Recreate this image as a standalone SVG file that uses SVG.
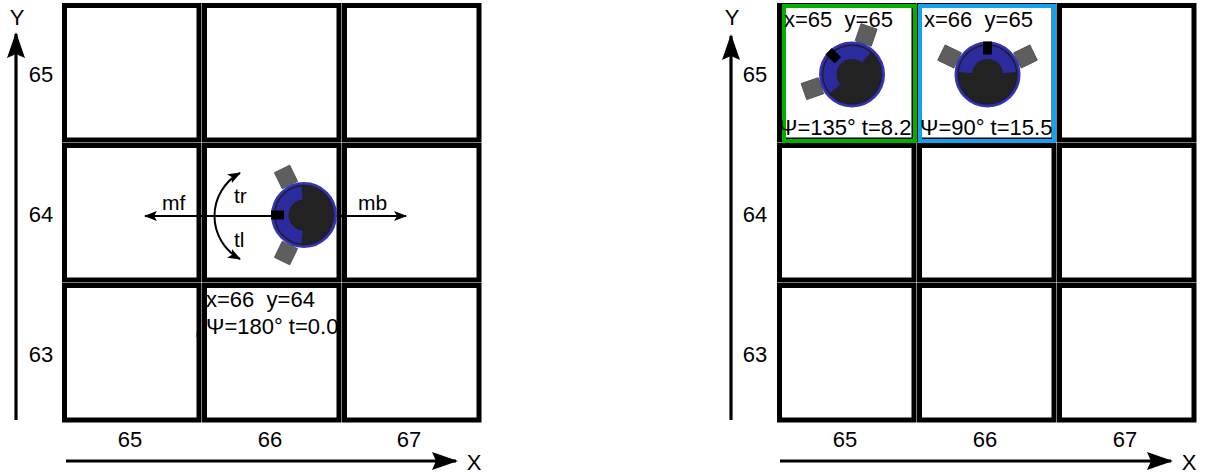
<svg xmlns="http://www.w3.org/2000/svg" xmlns:xlink="http://www.w3.org/1999/xlink" width="1205" height="473" viewBox="0 0 1205 473">
  <style>
    text { font-family: "Liberation Sans", Arial, sans-serif; fill: #000; white-space: pre; }
    .lbl { font-size: 21px; }
    .ax { font-size: 22px; text-anchor: middle; }
    .state { font-size: 22px; }
    .cell { fill: #fff; stroke: #000; stroke-width: 5; }
    .axis { stroke: #000; stroke-width: 3.2; fill: none; }
    .motion { stroke: #000; stroke-width: 2; fill: none; }
    .wheel { fill: #5e5e5e; stroke: #4a4a4a; stroke-width: 0.8; }
  </style>
  <defs>
    <marker id="axisHead" markerUnits="userSpaceOnUse" markerWidth="26" markerHeight="18" viewBox="0 0 26 18" refX="24" refY="9" orient="auto">
      <path d="M0,0 L26,9 L0,18 L4,9 Z" fill="#000"/>
    </marker>
    <marker id="smallHead" markerUnits="userSpaceOnUse" markerWidth="13" markerHeight="10" viewBox="0 0 13 10" refX="12" refY="5" orient="auto-start-reverse">
      <path d="M0,0 L13,5 L0,10 L3,5 Z" fill="#000"/>
    </marker>
    <!-- robot symbol, centred on the origin, front facing -x -->
    <g id="robot">
      <rect class="wheel" x="-8.5" y="-9" width="17" height="18" transform="translate(-18,-38) rotate(-26)"/>
      <rect class="wheel" x="-8.5" y="-9" width="17" height="18" transform="translate(-18,38) rotate(26)"/>
      <circle r="32" fill="#2b2b9e" stroke="#3535b4" stroke-width="2"/>
      <path d="M0,0 L-2.5,-28.9 A29,29 0 1 1 -2.5,28.9 Z" fill="#222"/>
      <circle r="15.5" fill="#222"/>
      <circle r="29.3" fill="none" stroke="#1c1c1c" stroke-width="1.2"/>
      <rect x="-33" y="-4.5" width="13" height="9" fill="#000"/>
    </g>
  </defs>

  <rect width="1205" height="473" fill="#fff"/>

  <!-- left map: 3x3 cells -->
  <g id="grid-left">
    <rect class="cell" x="64.5" y="5.5" width="134.5" height="134.5"/>
    <rect class="cell" x="204.5" y="5.5" width="134.5" height="134.5"/>
    <rect class="cell" x="344.5" y="5.5" width="134.5" height="134.5"/>
    <rect class="cell" x="64.5" y="145.5" width="134.5" height="134.5"/>
    <rect class="cell" x="204.5" y="145.5" width="134.5" height="134.5"/>
    <rect class="cell" x="344.5" y="145.5" width="134.5" height="134.5"/>
    <rect class="cell" x="64.5" y="285.5" width="134.5" height="134.5"/>
    <rect class="cell" x="204.5" y="285.5" width="134.5" height="134.5"/>
    <rect class="cell" x="344.5" y="285.5" width="134.5" height="134.5"/>
  </g>

  <!-- right map: 3x3 cells -->
  <g id="grid-right">
    <rect class="cell" x="779.5" y="5.5" width="134.5" height="134.5"/>
    <rect class="cell" x="919.5" y="5.5" width="134.5" height="134.5"/>
    <rect class="cell" x="1059.5" y="5.5" width="134.5" height="134.5"/>
    <rect class="cell" x="779.5" y="145.5" width="134.5" height="134.5"/>
    <rect class="cell" x="919.5" y="145.5" width="134.5" height="134.5"/>
    <rect class="cell" x="1059.5" y="145.5" width="134.5" height="134.5"/>
    <rect class="cell" x="779.5" y="285.5" width="134.5" height="134.5"/>
    <rect class="cell" x="919.5" y="285.5" width="134.5" height="134.5"/>
    <rect class="cell" x="1059.5" y="285.5" width="134.5" height="134.5"/>
    <rect x="784" y="6" width="131" height="135" fill="none" stroke="#00b000" stroke-width="4"/>
    <rect x="920" y="6" width="134" height="135" fill="none" stroke="#12a2f2" stroke-width="4"/>
  </g>

  <!-- axes and motion arrows -->
  <g id="connectors">
    <line class="axis" x1="16" y1="420" x2="16" y2="34" marker-end="url(#axisHead)"/>
    <line class="axis" x1="66" y1="461" x2="456" y2="461" marker-end="url(#axisHead)"/>
    <line class="axis" x1="731" y1="420" x2="731" y2="36" marker-end="url(#axisHead)"/>
    <line class="axis" x1="780" y1="461" x2="1171" y2="461" marker-end="url(#axisHead)"/>
    <line class="motion" x1="145" y1="216" x2="406" y2="216" marker-start="url(#smallHead)" marker-end="url(#smallHead)"/>
    <path class="motion" d="M240,173 A49,49 0 0 0 240,259" marker-start="url(#smallHead)" marker-end="url(#smallHead)"/>
  </g>

  <!-- axis labels -->
  <g id="labels-left">
    <text class="ax" x="17" y="25">Y</text>
    <text class="ax" x="474" y="470">X</text>
    <text class="ax" x="41" y="82">65</text>
    <text class="ax" x="41" y="222">64</text>
    <text class="ax" x="41" y="362">63</text>
    <text class="ax" x="130" y="447">65</text>
    <text class="ax" x="270" y="447">66</text>
    <text class="ax" x="409" y="447">67</text>
    <text class="lbl" x="162" y="210">mf</text>
    <text class="lbl" x="358" y="210">mb</text>
    <text class="lbl" x="234" y="203">tr</text>
    <text class="lbl" x="234" y="247">tl</text>
  </g>
  <g id="labels-right">
    <text class="ax" x="732" y="25">Y</text>
    <text class="ax" x="1189" y="470">X</text>
    <text class="ax" x="755" y="82">65</text>
    <text class="ax" x="755" y="222">64</text>
    <text class="ax" x="755" y="362">63</text>
    <text class="ax" x="845" y="447">65</text>
    <text class="ax" x="985" y="447">66</text>
    <text class="ax" x="1125" y="447">67</text>
  </g>

  <!-- robot at 66/64, heading 180 -->
  <g id="robot-start">
    <use xlink:href="#robot" transform="translate(304,215)"/>
    <text class="state" x="206" y="307">x=66  y=64</text>
    <text class="state" x="206" y="334">Ψ=180° t=0.0</text>
    <path d="M197,332 q1.5,1.5 0,5" stroke="#000" stroke-width="1.6" fill="none"/>
  </g>

  <!-- robot at 65/65, heading 135 -->
  <g id="robot-a">
    <use xlink:href="#robot" transform="translate(852,74.5) rotate(45)"/>
    <text class="state" x="784" y="27">x=65  y=65</text>
    <text class="state" x="779" y="135">Ψ=135° t=8.2</text>
  </g>

  <!-- robot at 66/65, heading 90 -->
  <g id="robot-b">
    <use xlink:href="#robot" transform="translate(987.5,74.5) rotate(90)"/>
    <text class="state" x="924" y="27">x=66  y=65</text>
    <text class="state" x="920" y="135">Ψ=90° t=15.5</text>
  </g>
</svg>
